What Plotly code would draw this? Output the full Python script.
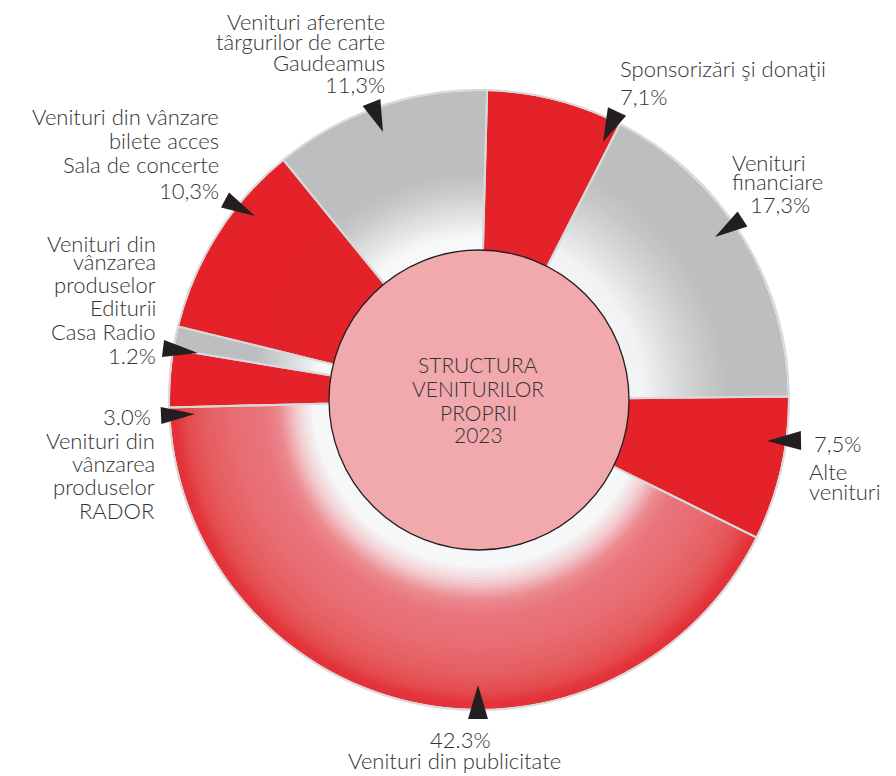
import plotly.graph_objects as go

# ---------------- data ----------------
labels = [
    "Sponsorizări şi donaţii",
    "Venituri financiare",
    "Alte venituri",
    "Venituri din publicitate",
    "Venituri din vânzarea produselor RADOR",
    "Venituri din vânzarea produselor Editurii Casa Radio",
    "Venituri din vânzare bilete acces Sala de concerte",
    "Venituri aferente târgurilor de carte Gaudeamus",
]
values = [7.1, 17.3, 7.5, 42.3, 3.0, 1.2, 10.3, 11.3]
decimal_sep = [",", ",", ",", ".", ".", ".", ",", ","]
name_lines = [
    ["Sponsorizări şi donaţii"],
    ["Venituri", "financiare"],
    ["Alte", "venituri"],
    ["Venituri din publicitate"],
    ["Venituri din", "vânzarea", "produselor", "RADOR"],
    ["Venituri din", "vânzarea", "produselor", "Editurii", "Casa Radio"],
    ["Venituri din vânzare", "bilete acces", "Sala de concerte"],
    ["Venituri aferente", "târgurilor de carte", "Gaudeamus"],
]
center_lines = ["STRUCTURA", "VENITURILOR", "PROPRII", "2023"]

# ---------------- styling ----------------
W, H = 896, 776
OFF = 8          # page body margin
CX, CY = 479, 400
R_OUT, R_IN = 309, 150
ROT = 1.5
FONT = "Lato"
TXT = "#333333"
RED = "#e42229"
GRAY = "#bdbec0"
WH = "#f6f8f9"

stops = {
    "red": [(0, RED), (400, RED)],
    "grayA": [(0, WH), (163, WH), (185, "#e1e2e3"), (210, "#c9cacc"), (228, GRAY), (400, GRAY)],
    "grayB": [(0, WH), (165, "#f2f3f4"), (200, "#d8d9db"), (230, "#c6c7c9"), (250, GRAY), (400, GRAY)],
    "pub": [(0, "#f4f9fb"), (166, "#f6f7f8"), (182, "#f2cfd2"), (200, "#ec8a90"),
            (215, "#ea757d"), (245, "#e86d73"), (275, "#e65d5f"), (293, "#e44a4c"),
            (303, "#e3333a"), (400, "#e2262c")],
}
styles = ["red", "grayB", "red", "pub", "red", "grayA", "red", "grayA"]


def px(x):
    return (x - OFF) / W


def py(y):
    return 1 - (y - OFF) / H


def h2r(h):
    h = h.lstrip("#")
    return [int(h[i:i + 2], 16) for i in (0, 2, 4)]


def color_at(st, r):
    for (r0, c0), (r1, c1) in zip(st[:-1], st[1:]):
        if r0 <= r <= r1:
            t = 0 if r1 == r0 else (r - r0) / (r1 - r0)
            a, b = h2r(c0), h2r(c1)
            return "rgb(%d,%d,%d)" % tuple(round(a[i] + (b[i] - a[i]) * t) for i in range(3))
    return st[-1][1]


def dom(r):
    return dict(x=[px(CX - r), px(CX + r)], y=[py(CY + r), py(CY - r)])


fig = go.Figure()

# gradient rings (stacked discs, outer first)
r = R_OUT
while r > R_IN:
    cols = [color_at(stops[s], r - 1.5) for s in styles]
    fig.add_trace(go.Pie(
        values=values, labels=labels, sort=False, direction="clockwise", rotation=ROT,
        marker=dict(colors=cols, line=dict(width=0)), textinfo="none",
        hoverinfo="skip", showlegend=False, domain=dom(r)))
    r -= 3

# separators + outer rim
fig.add_trace(go.Pie(
    values=values, labels=labels, sort=False, direction="clockwise", rotation=ROT,
    hole=(R_IN - 2) / (R_OUT + 1),
    marker=dict(colors=["rgba(0,0,0,0)"] * len(values), line=dict(color="#d8d9da", width=2)),
    textinfo="none", hoverinfo="skip", showlegend=False, domain=dom(R_OUT + 1)))

# pink centre
fig.add_trace(go.Pie(
    values=[1], labels=[""], sort=False,
    marker=dict(colors=["#f2a9ae"], line=dict(color="#231f20", width=1.3)),
    textinfo="none", hoverinfo="skip", showlegend=False, domain=dom(R_IN)))

annotations = []


def add_lines(lines, x, ys, anchor, size=22):
    for line, y in zip(lines, ys):
        annotations.append(dict(
            x=px(x), y=py(y), xref="paper", yref="paper", text=line, showarrow=False,
            xanchor=anchor, yanchor="middle",
            font=dict(family=FONT, size=size, weight=300, color=TXT)))


pct = [("%.1f%%" % v).replace(".", s) for v, s in zip(values, decimal_sep)]

# Sponsorizari
add_lines(name_lines[0] + [pct[0]], 618, [69, 96], "left")
# Financiare
add_lines(name_lines[1], 730, [163, 182], "left")
add_lines([pct[1]], 748, [204], "left")
# Alte
add_lines([pct[2]], 812, [443], "left")
add_lines(name_lines[2], 807, [471, 491], "left")
# Publicitate
add_lines([pct[3]], 460, [739], "center")
add_lines(name_lines[3], 454, [760], "center")
# RADOR
add_lines([pct[4]], 153, [416], "right")
add_lines(name_lines[4], 157, [440, 463, 486, 510], "right")
# Editura
add_lines(name_lines[5] + [pct[5]], 158, [243, 262, 284, 307, 331, 356], "right")
# Bilete
add_lines(name_lines[6] + [pct[6]], 221, [117, 140, 165, 190], "right")
# Gaudeamus
add_lines(name_lines[7] + [pct[7]], 387, [21, 42, 63, 85], "right")
# centre title
add_lines(center_lines, 478, [365, 388, 412, 434], "center", size=21)

# pointer triangles: (tip, base centre, base width)
pointers = [
    ((603, 142), (617, 111.5), 20),
    ((715, 237), (742.5, 219), 18),
    ((767, 441), (801, 440.5), 19),
    ((478, 685), (478, 719), 20),
    ((195, 414), (161, 415.5), 17),
    ((198, 353), (163, 348.5), 17),
    ((255, 216), (225, 200), 17),
    ((383, 132), (371.5, 102.5), 19),
]
shapes = []
for (tx, ty), (bx, by), w in pointers:
    dx, dy = tx - bx, ty - by
    L = (dx * dx + dy * dy) ** 0.5
    nx, ny = -dy / L, dx / L
    p1 = (bx + nx * w / 2, by + ny * w / 2)
    p2 = (bx - nx * w / 2, by - ny * w / 2)
    path = "M %f,%f L %f,%f L %f,%f Z" % (px(tx), py(ty), px(p1[0]), py(p1[1]), px(p2[0]), py(p2[1]))
    shapes.append(dict(type="path", path=path, xref="paper", yref="paper",
                       fillcolor="#231f20", line=dict(width=0), layer="above"))

fig.update_layout(
    width=W, height=H, margin=dict(l=0, r=0, t=0, b=0),
    paper_bgcolor="white", plot_bgcolor="white",
    annotations=annotations, shapes=shapes, showlegend=False,
)

fig.write_html("out.html")
